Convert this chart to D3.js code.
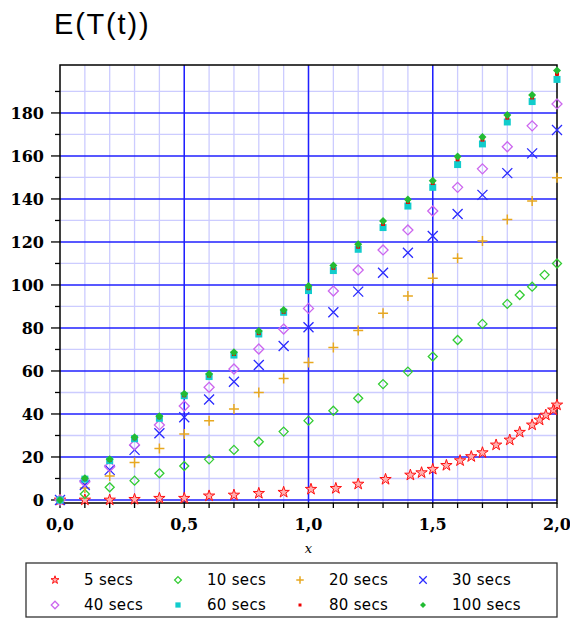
<!DOCTYPE html>
<html>
<head>
<meta charset="utf-8">
<script src="https://cdn.jsdelivr.net/npm/d3@7"></script>
<style>
  body { margin: 0; background: #fff; }
  svg { display: block; }
</style>
</head>
<body>
<svg id="chart"></svg>
<script>
// x positions shared by most series
const xs = [0, 0.1, 0.2, 0.3, 0.4, 0.5, 0.6, 0.7, 0.8, 0.9, 1.0, 1.1, 1.2, 1.3, 1.4, 1.5, 1.6, 1.7, 1.8, 1.9, 2.0];

// 5 secs has extra points at the upper end
const xs5 = [0, 0.1, 0.2, 0.3, 0.4, 0.5, 0.6, 0.7, 0.8, 0.9, 1.01, 1.11, 1.2, 1.31, 1.41, 1.455, 1.5, 1.555, 1.61, 1.655, 1.7, 1.755, 1.81, 1.85, 1.9, 1.93, 1.955, 1.985, 2.0];
const s5 = [0, 0, 0, 0.3, 0.8, 0.8, 1.9, 2.3, 3.1, 3.6, 5.0, 5.4, 7.4, 9.6, 11.6, 12.7, 14.3, 16.1, 18.3, 20.2, 22, 25.6, 27.9, 31.5, 34.9, 37.2, 39.5, 41.9, 44.2];

const xs10 = [0, 0.1, 0.2, 0.3, 0.4, 0.5, 0.6, 0.7, 0.8, 0.9, 1.0, 1.1, 1.2, 1.3, 1.4, 1.5, 1.6, 1.7, 1.8, 1.85, 1.9, 1.95, 2.0];
const s10 = [0, 2.8, 5.9, 9.0, 12.4, 15.8, 18.9, 23.3, 27.1, 31.8, 36.9, 41.5, 47.3, 53.9, 59.7, 66.7, 74.4, 81.9, 91.2, 95.3, 99.2, 104.7, 110];

const s20 = [0, 5.6, 11.2, 17.4, 24, 30.7, 36.9, 42.3, 50, 56.5, 64, 70.9, 78.8, 86.8, 94.9, 103.1, 112.4, 120.5, 130.5, 139.1, 149.9];
const s30 = [0, 7, 14, 23.3, 31, 38.5, 46.7, 55, 62.8, 71.6, 80.3, 87.3, 96.9, 105.7, 115, 122.8, 133, 141.9, 152, 161.2, 172.1];
const s40 = [0, 8.5, 15.5, 25.6, 34.9, 43.7, 52.4, 60.9, 70.2, 79.5, 89.1, 97.2, 107, 116.3, 125.6, 134.4, 145.4, 154, 164.3, 174, 184.2];
const s60 = [0, 9.7, 18.3, 28.5, 38, 48.5, 57.4, 67.4, 77.2, 87.3, 97.4, 106.7, 116.6, 126.7, 136.7, 145.4, 156, 165.6, 175.8, 185.3, 195.6];
const s80 = [0, 9.8, 18.6, 28.7, 38.5, 48.7, 57.9, 67.9, 77.6, 87.5, 98.5, 108, 117.8, 128.4, 138.6, 147.4, 158.4, 167.6, 177.8, 187.2, 198.2];
const s100 = [0, 10.1, 18.9, 29.2, 39, 49.4, 58.6, 68.7, 78.6, 88.4, 99.5, 109, 118.9, 129.7, 139.8, 148.5, 159.7, 168.8, 179, 188.4, 199.7];

const xTicks = [0, 0.5, 1.0, 1.5, 2.0];
const yTicks = [0, 20, 40, 60, 80, 100, 120, 140, 160, 180];

const width = 570;
const height = 619;
const plotLeft = 60, plotRight = 557, plotTop = 65, plotBottom = 503;

const svg = d3.select("#chart").attr("width", width).attr("height", height);

const x = d3.scaleLinear().domain([0, 2]).range([plotLeft, plotRight]);
const y = d3.scaleLinear().domain([-1.4, 202.3]).range([plotBottom, plotTop]);

// marker shapes (path strings centred on 0,0)
const shapes = {
  star: r => d3.symbol(d3.symbolStar, r)(),
  diamond: r => `M0,${-r}L${r},0L0,${r}L${-r},0Z`,
  plus: r => `M${-r},0H${r}M0,${-r}V${r}`,
  cross: r => `M${-r},${-r}L${r},${r}M${-r},${r}L${r},${-r}`,
  square: r => `M${-r},${-r}H${r}V${r}H${-r}Z`
};

const series = [
  { name: "5 secs", xs: xs5, ys: s5, shape: "star", size: 40, stroke: "#ff1010", fill: "#ffb0b0", sw: 1 },
  { name: "10 secs", xs: xs10, ys: s10, shape: "diamond", size: 4.5, stroke: "#33cc33", fill: "none", sw: 1.3 },
  { name: "20 secs", xs: xs, ys: s20, shape: "plus", size: 5, stroke: "#e8a820", fill: "none", sw: 1.5 },
  { name: "30 secs", xs: xs, ys: s30, shape: "cross", size: 5, stroke: "#2a2aff", fill: "none", sw: 1.3 },
  { name: "40 secs", xs: xs, ys: s40, shape: "diamond", size: 5, stroke: "#cc66ee", fill: "none", sw: 1.3 },
  { name: "60 secs", xs: xs, ys: s60, shape: "square", size: 3.5, stroke: "none", fill: "#11cccc", sw: 0 },
  { name: "80 secs", xs: xs, ys: s80, shape: "square", size: 2, stroke: "none", fill: "#ee0000", sw: 0 },
  { name: "100 secs", xs: xs, ys: s100, shape: "diamond", size: 4, stroke: "none", fill: "#22bb33", sw: 0 }
];

// title
svg.append("text")
  .attr("x", 54).attr("y", 34)
  .attr("font-family", "Liberation Sans, Arial, sans-serif")
  .attr("font-size", 29)
  .attr("letter-spacing", 1.8)
  .text("E(T(t))");

// grid
const grid = svg.append("g");
grid.selectAll(".xminor").data(d3.range(1, 20).map(i => i / 10)).enter().append("line")
  .attr("x1", d => x(d)).attr("x2", d => x(d)).attr("y1", plotTop).attr("y2", plotBottom)
  .attr("stroke", "#ccccff").attr("stroke-width", 1.3);
grid.selectAll(".yminor").data(d3.range(10, 201, 20)).enter().append("line")
  .attr("x1", plotLeft).attr("x2", plotRight).attr("y1", d => y(d)).attr("y2", d => y(d))
  .attr("stroke", "#ccccff").attr("stroke-width", 1.3);
grid.selectAll(".xmajor").data([0.5, 1.0, 1.5]).enter().append("line")
  .attr("x1", d => x(d)).attr("x2", d => x(d)).attr("y1", plotTop).attr("y2", plotBottom)
  .attr("stroke", "#2020ff").attr("stroke-width", 1.5);
grid.selectAll(".ymajor").data(yTicks).enter().append("line")
  .attr("x1", plotLeft).attr("x2", plotRight).attr("y1", d => y(d)).attr("y2", d => y(d))
  .attr("stroke", "#2020ff").attr("stroke-width", 1.5);

// frame
svg.append("rect")
  .attr("x", plotLeft).attr("y", plotTop).attr("width", plotRight - plotLeft).attr("height", plotBottom - plotTop)
  .attr("fill", "none").attr("stroke", "#000").attr("stroke-width", 1.5);

// y axis ticks and labels
const yAxis = svg.append("g");
yAxis.selectAll(".minor").data(d3.range(10, 201, 20)).enter().append("line")
  .attr("x1", plotLeft - 5).attr("x2", plotLeft).attr("y1", d => y(d)).attr("y2", d => y(d))
  .attr("stroke", "#000").attr("stroke-width", 1.3);
yAxis.selectAll(".major").data(yTicks).enter().append("line")
  .attr("x1", plotLeft - 9).attr("x2", plotLeft).attr("y1", d => y(d)).attr("y2", d => y(d))
  .attr("stroke", "#000").attr("stroke-width", 1.3);
yAxis.selectAll("text").data(yTicks).enter().append("text")
  .attr("x", 44).attr("y", d => y(d)).attr("dy", "0.36em")
  .attr("text-anchor", "end")
  .attr("font-family", "DejaVu Serif, serif").attr("font-weight", "bold").attr("font-size", 16)
  .text(d => d);

// x axis ticks and labels
const xAxis = svg.append("g");
xAxis.selectAll("line").data(d3.range(0, 21).map(i => i / 10)).enter().append("line")
  .attr("x1", d => x(d)).attr("x2", d => x(d)).attr("y1", plotBottom).attr("y2", plotBottom + 5)
  .attr("stroke", "#000").attr("stroke-width", 1.3);
xAxis.selectAll("text").data(xTicks).enter().append("text")
  .attr("x", d => x(d)).attr("y", 530)
  .attr("text-anchor", "middle")
  .attr("font-family", "DejaVu Serif, serif").attr("font-weight", "bold").attr("font-size", 16)
  .text(d => d3.format(".1f")(d).replace(".", ","));
svg.append("text")
  .attr("x", x(1)).attr("y", 553)
  .attr("text-anchor", "middle")
  .attr("font-family", "DejaVu Serif, serif").attr("font-style", "italic").attr("font-size", 13)
  .text("x");

// points
const plot = svg.append("g");
series.forEach(s => {
  plot.selectAll(null).data(s.ys.map((v, i) => [s.xs[i], v])).enter().append("path")
    .attr("transform", d => `translate(${x(d[0])},${y(d[1])})`)
    .attr("d", shapes[s.shape](s.size))
    .attr("fill", s.fill).attr("stroke", s.stroke).attr("stroke-width", s.sw);
});

// legend
const legend = svg.append("g");
legend.append("rect")
  .attr("x", 26).attr("y", 563).attr("width", 531).attr("height", 54)
  .attr("fill", "#fff").attr("stroke", "#333").attr("stroke-width", 1.3);
const colX = [55, 178, 300, 423];
const rowY = [580, 605];
series.forEach((s, i) => {
  const cx = colX[i % 4], cy = rowY[Math.floor(i / 4)];
  legend.append("path")
    .attr("transform", `translate(${cx},${cy})`)
    .attr("d", shapes[s.shape](s.shape === "star" ? s.size * 0.5 : s.size * 0.75))
    .attr("fill", s.fill).attr("stroke", s.stroke).attr("stroke-width", s.sw);
  legend.append("text")
    .attr("x", cx + 29).attr("y", cy).attr("dy", "0.35em")
    .attr("font-family", "DejaVu Sans, sans-serif").attr("font-size", 15)
    .attr("letter-spacing", 0.3)
    .text(s.name);
});
</script>
</body>
</html>
